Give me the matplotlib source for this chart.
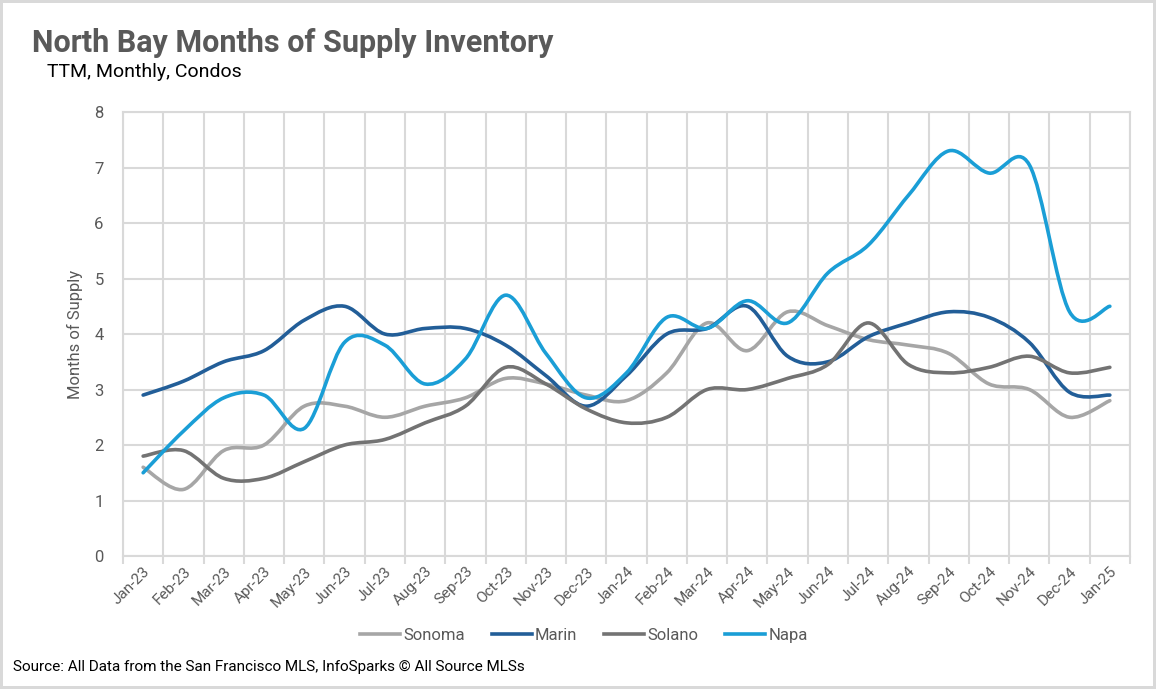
import numpy as np
import matplotlib
matplotlib.use('Agg')
import matplotlib.pyplot as plt
from matplotlib.path import Path
from matplotlib.patches import PathPatch
from matplotlib.lines import Line2D

months = ['Jan-23', 'Feb-23', 'Mar-23', 'Apr-23', 'May-23', 'Jun-23', 'Jul-23', 'Aug-23',
          'Sep-23', 'Oct-23', 'Nov-23', 'Dec-23', 'Jan-24', 'Feb-24', 'Mar-24', 'Apr-24',
          'May-24', 'Jun-24', 'Jul-24', 'Aug-24', 'Sep-24', 'Oct-24', 'Nov-24', 'Dec-24', 'Jan-25']

sonoma = [1.6, 1.2, 1.9, 2.0, 2.7, 2.7, 2.5, 2.7, 2.85, 3.2, 3.1, 2.9, 2.8, 3.3, 4.2, 3.7,
          4.4, 4.15, 3.9, 3.8, 3.65, 3.1, 3.0, 2.5, 2.8]
marin = [2.9, 3.15, 3.5, 3.7, 4.25, 4.5, 4.0, 4.1, 4.1, 3.8, 3.25, 2.7, 3.25, 4.0, 4.1, 4.5,
         3.6, 3.5, 3.95, 4.2, 4.4, 4.3, 3.85, 2.95, 2.9]
solano = [1.8, 1.9, 1.4, 1.4, 1.7, 2.0, 2.1, 2.4, 2.7, 3.4, 3.1, 2.65, 2.4, 2.5, 3.0, 3.0,
          3.2, 3.45, 4.2, 3.45, 3.3, 3.4, 3.6, 3.3, 3.4]
napa = [1.5, 2.25, 2.85, 2.9, 2.3, 3.85, 3.8, 3.1, 3.55, 4.7, 3.65, 2.85, 3.3, 4.3, 4.1, 4.6,
        4.2, 5.1, 5.6, 6.5, 7.3, 6.9, 7.05, 4.4, 4.5]

series = [('Sonoma', sonoma, '#A6A6A6'),
          ('Marin', marin, '#225E98'),
          ('Solano', solano, '#737373'),
          ('Napa', napa, '#1A9ED6')]

grid_col = '#D9D9D9'
text_col = '#595959'

plt.rcParams['font.family'] = ['Roboto', 'DejaVu Sans']


def smooth_path(y):
    # catmull-rom style bezier, like excel's smoothed line
    x = np.arange(len(y), dtype=float)
    pts = np.column_stack([x, np.asarray(y, dtype=float)])
    verts = [pts[0]]
    codes = [Path.MOVETO]
    n = len(pts)
    for i in range(n - 1):
        p0 = pts[max(i - 1, 0)]
        p1 = pts[i]
        p2 = pts[i + 1]
        p3 = pts[min(i + 2, n - 1)]
        c1 = p1 + (p2 - p0) / 6.0
        c2 = p2 - (p3 - p1) / 6.0
        verts += [c1, c2, p2]
        codes += [Path.CURVE4] * 3
    return Path(verts, codes)


fig = plt.figure(figsize=(11.56, 6.89), dpi=100)
ax = fig.add_axes([0.1064, 0.193, 0.8711, 0.6444])

for name, vals, col in series:
    patch = PathPatch(smooth_path(vals), facecolor='none', edgecolor=col, lw=2.6,
                      capstyle='round', joinstyle='round', zorder=3)
    ax.add_patch(patch)

ax.set_xlim(-0.5, len(months) - 0.5)
ax.set_ylim(0, 8)
ax.set_yticks(range(0, 9))
ax.set_xticks(range(len(months)))
ax.set_xticklabels(months, rotation=45, ha='right', rotation_mode='anchor')
ax.set_xticks(np.arange(-0.5, len(months), 1.0), minor=True)

ax.grid(True, which='major', axis='y', color=grid_col, lw=1.5, zorder=0)
ax.grid(True, which='minor', axis='x', color=grid_col, lw=1.5, zorder=0)
ax.tick_params(axis='x', which='major', length=0, labelsize=11, labelcolor=text_col, pad=6)
ax.tick_params(axis='x', which='minor', length=6, color=grid_col, width=1.5)
ax.tick_params(axis='y', length=0, labelsize=12, labelcolor=text_col, pad=14)
for s in ax.spines.values():
    s.set_color(grid_col)
    s.set_linewidth(1.5)

ax.set_ylabel('Months of Supply', fontsize=12, color=text_col, labelpad=8)

fig.text(0.028, 0.938, 'North Bay Months of Supply Inventory', fontsize=22, fontweight='bold',
         color=text_col, va='center')
fig.text(0.041, 0.895, 'TTM, Monthly, Condos', fontsize=14, color='black', va='center')
fig.text(0.011, 0.032, 'Source: All Data from the San Francisco MLS, InfoSparks \u00a9 All Source MLSs',
         fontsize=11, color='black', va='center')

handles = [Line2D([], [], color=c, lw=2.6) for _, _, c in series]
fig.legend(handles, [n for n, _, _ in series], loc='center', bbox_to_anchor=(0.505, 0.078),
           ncol=4, frameon=False, fontsize=12, labelcolor=text_col, handlelength=2.4,
           handletextpad=0.2, columnspacing=1.6)

fig.patch.set_edgecolor(grid_col)
fig.patch.set_linewidth(3)

fig.savefig('out.png', dpi=100, edgecolor=fig.get_edgecolor())
